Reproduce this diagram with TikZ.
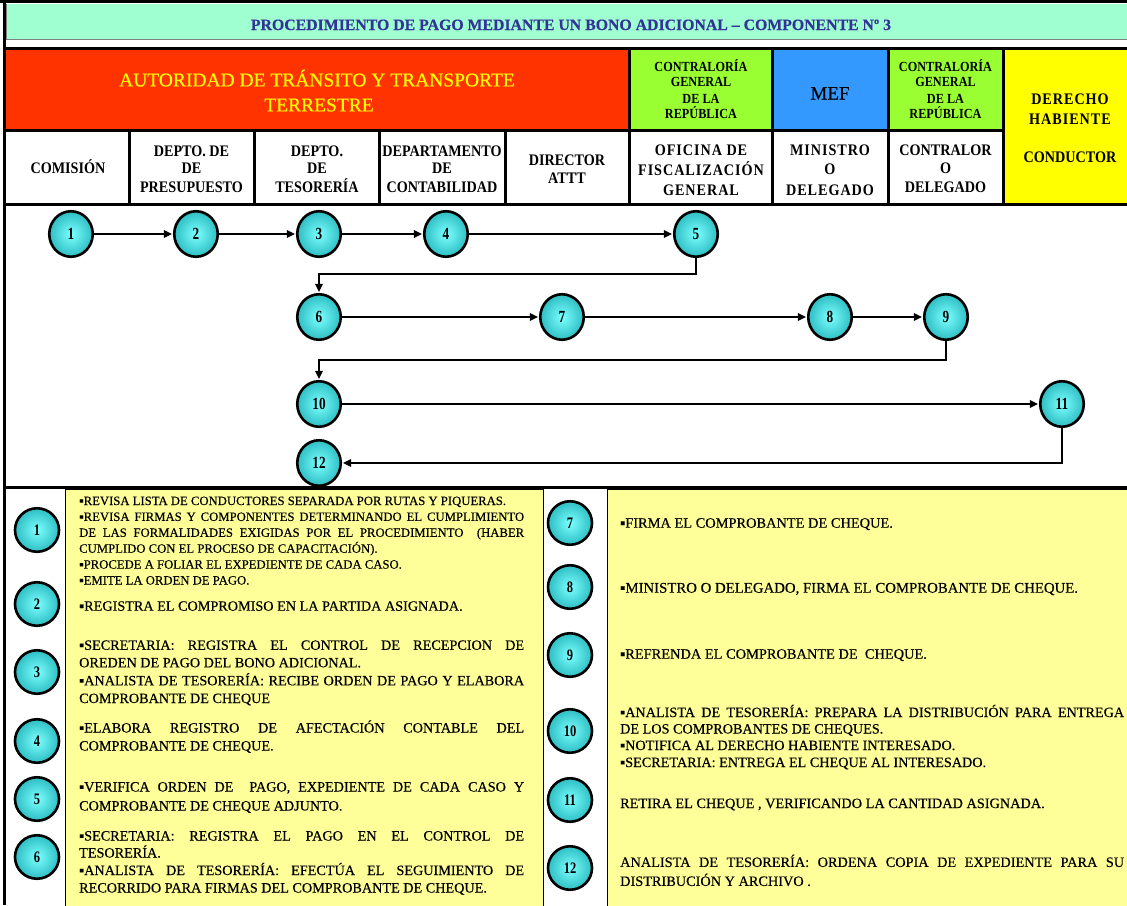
\documentclass[tikz,border=0pt]{standalone}
\usepackage{fontspec}
\setmainfont{Liberation Serif}[FakeBold=0.4]
\newfontfamily\hdf{Liberation Serif}[FakeStretch=0.88]
\newfontfamily\digf{Liberation Serif}[FakeStretch=0.78]
\usetikzlibrary{shapes.geometric,arrows.meta}
\definecolor{mint}{RGB}{160,255,208}
\definecolor{titleblue}{RGB}{51,51,153}
\definecolor{hred}{RGB}{255,51,0}
\definecolor{hgreen}{RGB}{153,255,51}
\definecolor{hblue}{RGB}{51,153,255}
\definecolor{hyellow}{RGB}{255,255,0}
\definecolor{pyellow}{RGB}{255,255,153}
\definecolor{ballin}{RGB}{125,255,255}
\definecolor{ballout}{RGB}{45,190,195}
\newlength\jw
\newcommand\J[1]{\makebox[\jw][s]{#1}}
\newcommand\fs[2]{\fontsize{#1}{#2}\selectfont}
\newcommand\ls{\addfontfeature{LetterSpace=6}}
\begin{document}
\begin{tikzpicture}[x=1pt,y=-1pt,
 tl/.style={inner sep=0pt, anchor=base west},
 tc/.style={inner sep=0pt, anchor=base},
 hb/.style={tc, font=\hdf\bfseries\fs{16.1}{17}},
 hbs/.style={tc, font=\hdf\bfseries\fs{16.1}{17}\ls},
 gb/.style={tc, font=\hdf\bfseries\fs{13.9}{15}},
 body/.style={tl, font=\fs{14.2}{17}},
 ball/.style={ellipse, draw=black, line width=2.6pt, minimum width=43.5pt, minimum height=45.5pt, inner sep=0pt, inner color=ballin, outer color=ballout, font=\digf\bfseries\fs{17}{17}},
 sball/.style={ball, minimum width=44pt, minimum height=43.5pt, font=\digf\bfseries\fs{16}{16}},
 arr/.style={line width=1.3pt, -{Triangle[length=8pt,width=7.5pt]}, shorten >=1pt},
 cell/.style={line width=3pt},
 pan/.style={fill=pyellow, draw=black, line width=1pt},
]
\useasboundingbox (0,0) rectangle (1127,905);
\fill[white] (0,0) rectangle (1127,905);
% title band
\fill[mint] (6,4) rectangle (1127,39);
\draw[gray, line width=1pt] (6.5,4) -- (6.5,39) -- (1127,39);
% header row 1
\fill[hred] (6,50) rectangle (629.5,130.5);
\fill[hgreen] (629.5,50) rectangle (772.5,130.5);
\fill[hblue] (772.5,50) rectangle (888,130.5);
\fill[hgreen] (888,50) rectangle (1003.5,130.5);
\fill[hyellow] (1003.5,50) rectangle (1127,204);
% lower panels
\filldraw[pan] (65,489) rectangle (543,906);
\filldraw[pan] (607,489) rectangle (1128,906);
% grid lines
\draw[cell] (0,1.5) -- (1127,1.5);
\draw[cell] (4.5,0) -- (4.5,905);
\draw[cell] (3,48.5) -- (1127,48.5);
\draw[cell] (3,130.5) -- (1003.5,130.5);
\draw[cell] (3,204) -- (1127,204);
\draw[cell] (3,487) -- (1127,487);
\foreach \x in {629.5,772.5,888,1003.5} \draw[cell] (\x,48.5) -- (\x,204);
\foreach \x in {129,254,379,505} \draw[cell] (\x,130.5) -- (\x,204);

% title
\node[tc, font=\bfseries\fs{15.8}{16}, text=titleblue] (title) at (571,30) {PROCEDIMIENTO DE PAGO MEDIANTE UN BONO ADICIONAL – COMPONENTE Nº 3};
% row 1
\node[tc, font=\fs{19.5}{20}, text=hyellow] (att1) at (317,86.4) {AUTORIDAD DE TRÁNSITO Y TRANSPORTE};
\node[tc, font=\fs{19.5}{20}, text=hyellow] (att2) at (319,111.4) {TERRESTRE};
\node[gb] (cga) at (701,71.5) {CONTRALORÍA};
\node[gb] (cgb) at (701,86.5) {GENERAL};
\node[gb] (cgc) at (701,103.5) {DE LA};
\node[gb] (cgd) at (701,118.5) {REPÚBLICA};
\node[tc, font=\fs{19}{19}] (mef) at (830,99.5) {MEF};
\node[gb] (cha) at (945.5,71.5) {CONTRALORÍA};
\node[gb] (chb) at (945.5,86.5) {GENERAL};
\node[gb] (chc) at (945.5,103.5) {DE LA};
\node[gb] (chd) at (945.5,118.5) {REPÚBLICA};
\node[hbs] (dh1) at (1070,104.5) {DERECHO};
\node[hbs] (dh2) at (1070,124.5) {HABIENTE};
\node[hb] (cond) at (1070,162.5) {CONDUCTOR};
% row 2
\node[hb] (com) at (68,173.5) {COMISIÓN};
\node[hb] (pa) at (191.5,156.5) {DEPTO. DE};
\node[hb] (pb) at (191.5,173.5) {DE};
\node[hb] (pc) at (191.5,192.5) {PRESUPUESTO};
\node[hb] (tsa) at (317,156.5) {DEPTO.};
\node[hb] (tsb) at (317,173.5) {DE};
\node[hb] (tsc) at (317,192.5) {TESORERÍA};
\node[hb] (cna) at (442,156.5) {DEPARTAMENTO};
\node[hb] (cnb) at (442,173.5) {DE};
\node[hb] (cnc) at (442,192.5) {CONTABILIDAD};
\node[hb] (dra) at (567,165.5) {DIRECTOR};
\node[hb] (drb) at (567,183.5) {ATTT};
\node[hbs] (ofa) at (701,155.5) {OFICINA DE};
\node[hbs] (ofb) at (701,175.5) {FISCALIZACIÓN};
\node[hbs] (ofc) at (701,195.5) {GENERAL};
\node[hbs] (mia) at (830,155.5) {MINISTRO};
\node[hb] (mib) at (830,174.5) {O};
\node[hbs] (mic) at (830,195.5) {DELEGADO};
\node[hb] (coa) at (945.5,155.5) {CONTRALOR};
\node[hb] (cob) at (945.5,173.5) {O};
\node[hb] (coc) at (945.5,192.5) {DELEGADO};

% flow
\node[ball] (f1) at (71,234) {1};
\node[ball] (f2) at (196,234) {2};
\node[ball] (f3) at (319,234) {3};
\node[ball] (f4) at (446,234) {4};
\node[ball] (f5) at (696,234) {5};
\node[ball] (f6) at (319,317) {6};
\node[ball] (f7) at (562,317) {7};
\node[ball] (f8) at (830,317) {8};
\node[ball] (f9) at (946,317) {9};
\node[ball] (f10) at (319,404) {10};
\node[ball] (f11) at (1062,404) {11};
\node[ball] (f12) at (319,463) {12};
\coordinate (k5) at (319,274);
\coordinate (k9) at (319,360);
\draw[arr] (f1) -- (f2);
\draw[arr] (f2) -- (f3);
\draw[arr] (f3) -- (f4);
\draw[arr] (f4) -- (f5);
\draw[arr] (f5.south) |- (k5) -- (f6.north);
\draw[arr] (f6) -- (f7);
\draw[arr] (f7) -- (f8);
\draw[arr] (f8) -- (f9);
\draw[arr] (f9.south) |- (k9) -- (f10.north);
\draw[arr] (f10) -- (f11);
\draw[arr] (f11.south) |- (f12.east);

% lower circles
\node[sball] (l1) at (37,530) {1};
\node[sball] (l2) at (37,604) {2};
\node[sball] (l3) at (37,672) {3};
\node[sball] (l4) at (37,741) {4};
\node[sball] (l5) at (37,799) {5};
\node[sball] (l6) at (37,857) {6};
\node[sball] (r7) at (570,523) {7};
\node[sball] (r8) at (570,587) {8};
\node[sball] (r9) at (570,655) {9};
\node[sball] (r10) at (570,731) {10};
\node[sball] (r11) at (570,800) {11};
\node[sball] (r12) at (570,868) {12};

% left texts
\setlength\jw{445pt}
\node[tl, font=\fs{12.7}{15}] (a1) at (79,505) {▪REVISA LISTA DE CONDUCTORES SEPARADA POR RUTAS Y PIQUERAS.};
\node[tl, font=\fs{12.7}{15}] (a2) at (79,520.9) {\J{▪REVISA FIRMAS Y COMPONENTES DETERMINANDO EL CUMPLIMIENTO}};
\node[tl, font=\fs{12.7}{15}] (a3) at (79,536.8) {\J{DE LAS FORMALIDADES EXIGIDAS POR EL PROCEDIMIENTO \ (HABER}};
\node[tl, font=\fs{12.7}{15}] (a4) at (79,552.7) {CUMPLIDO CON EL PROCESO DE CAPACITACIÓN).};
\node[tl, font=\fs{12.7}{15}] (a5) at (79,568.6) {▪PROCEDE A FOLIAR EL EXPEDIENTE DE CADA CASO.};
\node[tl, font=\fs{12.7}{15}] (a6) at (79,584.5) {▪EMITE LA ORDEN DE PAGO.};
\node[body] (b1) at (79,610.7) {▪REGISTRA EL COMPROMISO EN LA PARTIDA ASIGNADA.};
\node[body] (c1) at (79,649.8) {\J{▪SECRETARIA: REGISTRA EL CONTROL DE RECEPCION DE}};
\node[body] (c2) at (79,667.3) {OREDEN DE PAGO DEL BONO ADICIONAL.};
\node[body] (c3) at (79,685.3) {\J{▪ANALISTA DE TESORERÍA: RECIBE ORDEN DE PAGO Y ELABORA}};
\node[body] (c4) at (79,703) {COMPROBANTE DE CHEQUE};
\node[body] (d1) at (79,732.5) {\J{▪ELABORA REGISTRO DE AFECTACIÓN CONTABLE DEL}};
\node[body] (d2) at (79,750.5) {COMPROBANTE DE CHEQUE.};
\node[body] (e1) at (79,791.5) {\J{▪VERIFICA ORDEN DE \ PAGO, EXPEDIENTE DE CADA CASO Y}};
\node[body] (e2) at (79,810.5) {COMPROBANTE DE CHEQUE ADJUNTO.};
\node[body] (g1) at (79,840.5) {\J{▪SECRETARIA: REGISTRA EL PAGO EN EL CONTROL DE}};
\node[body] (g2) at (79,857.5) {TESORERÍA.};
\node[body] (g3) at (79,875) {\J{▪ANALISTA DE TESORERÍA: EFECTÚA EL SEGUIMIENTO DE}};
\node[body] (g4) at (79,892.5) {RECORRIDO PARA FIRMAS DEL COMPROBANTE DE CHEQUE.};

% right texts
\setlength\jw{504pt}
\node[body, font=\fs{14.4}{17}] (h1) at (620,527.7) {▪FIRMA EL COMPROBANTE DE CHEQUE.};
\node[body, font=\fs{14.8}{17}] (i1) at (620,592.7) {▪MINISTRO O DELEGADO, FIRMA EL COMPROBANTE DE CHEQUE.};
\node[body, font=\fs{14.4}{17}] (j1) at (620,658.7) {▪REFRENDA EL COMPROBANTE DE \ CHEQUE.};
\node[body] (m1) at (620,717) {\J{▪ANALISTA DE TESORERÍA: PREPARA LA DISTRIBUCIÓN PARA ENTREGA}};
\node[body] (m2) at (620,733.5) {DE LOS COMPROBANTES DE CHEQUES.};
\node[body] (m3) at (620,750) {▪NOTIFICA AL DERECHO HABIENTE INTERESADO.};
\node[body] (m4) at (620,767) {▪SECRETARIA: ENTREGA EL CHEQUE AL INTERESADO.};
\node[body, font=\fs{14.3}{17}] (n1) at (620,808) {RETIRA EL CHEQUE , VERIFICANDO LA CANTIDAD ASIGNADA.};
\node[body, font=\fs{14.3}{17}] (o1) at (620,866.9) {\J{ANALISTA DE TESORERÍA: ORDENA COPIA DE EXPEDIENTE PARA SU}};
\node[body, font=\fs{14.3}{17}] (o2) at (620,885.9) {DISTRIBUCIÓN Y ARCHIVO .};
\end{tikzpicture}
\end{document}
